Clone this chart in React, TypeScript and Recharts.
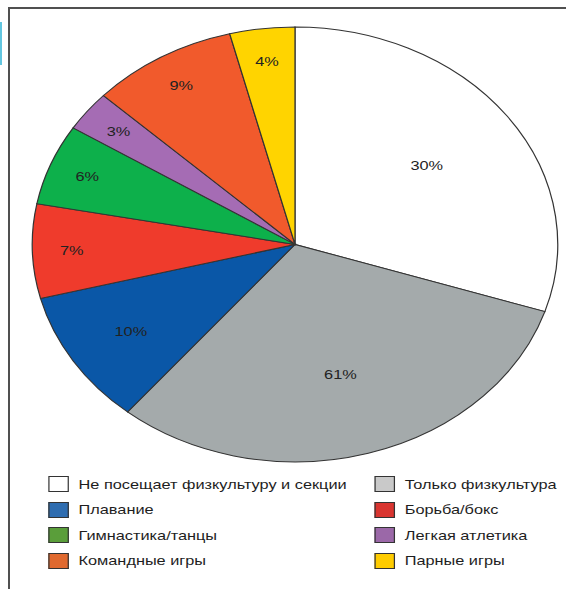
import { Cell, Legend, Pie, PieChart } from "recharts";

const categories = [
  "Не посещает физкультуру и секции",
  "Только физкультура",
  "Плавание",
  "Борьба/бокс",
  "Гимнастика/танцы",
  "Легкая атлетика",
  "Командные игры",
  "Парные игры",
];
// slice sizes as drawn (share of the circle)
const shares = [30, 31, 10, 7, 6, 3, 9, 4];
// the percentages printed on the slices
const sliceLabels = ["30%", "61%", "10%", "7%", "6%", "3%", "9%", "4%"];

const FILLS = ["#ffffff", "#a4aaab", "#0a57a7", "#ef3b2c", "#0db04b", "#a56cb4", "#f15a2c", "#ffd400"];
const SWATCHES = ["#ffffff", "#c9c9c9", "#2f6db0", "#d93530", "#5a9e3a", "#9b68a8", "#e0692f", "#ffcc00"];

const STRETCH = 1.208;
const FONT = "'Liberation Sans', Arial, Helvetica, sans-serif";
const RAD = Math.PI / 180;

const data = categories.map((name, i) => ({ name, value: shares[i], label: sliceLabels[i] }));

function SliceLabel(props: any) {
  const { cx, cy, midAngle, outerRadius, index, value } = props;
  const k = value >= 20 ? 0.62 : value >= 10 ? 0.74 : 0.85;
  const r = outerRadius * k;
  const x = cx + r * Math.cos(-midAngle * RAD);
  const y = cy + r * Math.sin(-midAngle * RAD);
  return (
    <text x={x} y={y} textAnchor="middle" dominantBaseline="central" fill="#222" fontSize={13.5} fontFamily={FONT}>
      {sliceLabels[index]}
    </text>
  );
}

// legend kept in the order of the categories, two per row
function LegendGrid() {
  return (
    <div style={{ display: "grid", gridTemplateColumns: "270px 160px", rowGap: 9.5, paddingLeft: 40 }}>
      {categories.map((name, i) => (
        <div key={name} style={{ display: "flex", alignItems: "center", height: 16 }}>
          <span
            style={{
              width: 15,
              height: 14,
              background: SWATCHES[i],
              border: "1px solid #333",
              marginRight: 8,
              flex: "none",
            }}
          />
          <span style={{ fontSize: 13.5, color: "#1e1e1e", fontFamily: FONT, whiteSpace: "nowrap" }}>{name}</span>
        </div>
      ))}
    </div>
  );
}

export default function App() {
  return (
    <div style={{ position: "absolute", left: 0, top: 0, width: 566, height: 589, overflow: "hidden", background: "#fff" }}>
      <div style={{ position: "absolute", left: 0, top: 22, width: 2, height: 43, background: "#62c6e0" }} />
      <div
        style={{
          position: "absolute",
          left: 8,
          top: 7,
          width: 620,
          height: 640,
          borderLeft: "2px solid #505050",
          borderTop: "2px solid #505050",
        }}
      />
      <div style={{ position: "absolute", left: 0, top: 0, transform: `scaleX(${STRETCH})`, transformOrigin: "0 0" }}>
        <PieChart width={469} height={589}>
          <Pie
            data={data}
            dataKey="value"
            nameKey="name"
            cx={239.2}
            cy={239.4}
            outerRadius={217.5}
            startAngle={90}
            endAngle={-270}
            stroke="#333"
            strokeWidth={1}
            label={SliceLabel}
            labelLine={false}
            isAnimationActive={false}
          >
            {data.map((d, i) => (
              <Cell key={d.name} fill={FILLS[i]} />
            ))}
          </Pie>
          <Legend content={<LegendGrid />} wrapperStyle={{ left: 0, top: 476, width: 469 }} />
        </PieChart>
      </div>
    </div>
  );
}
